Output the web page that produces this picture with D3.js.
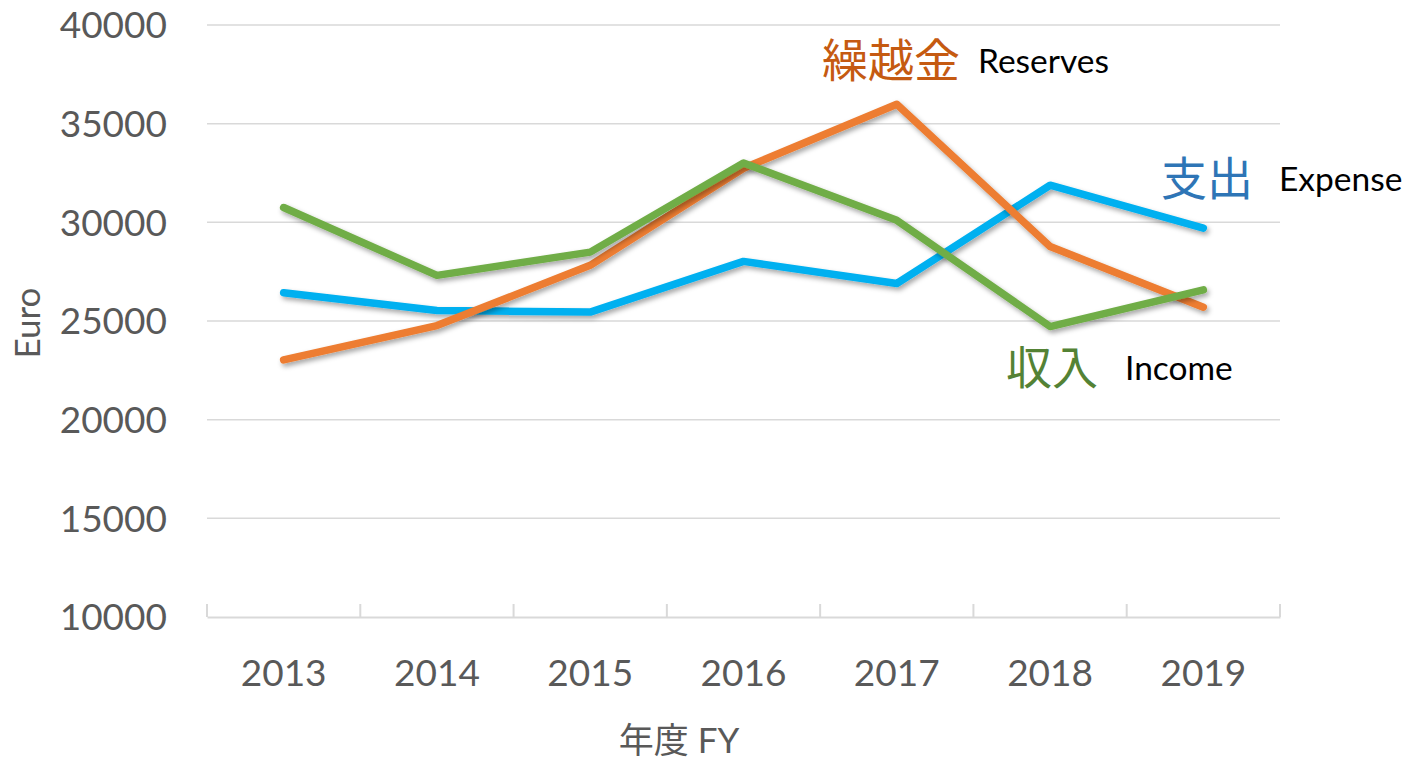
<!DOCTYPE html>
<html>
  <head>
    <meta charset="UTF-8" />
    <style>
      body { margin: 0; background: #fff; }
      text { font-family: Lato, "Noto Sans", sans-serif; }
      .cjk { font-family: "Noto Sans CJK JP", sans-serif; }
    </style>
  </head>
  <body>
    <svg></svg>

    <script src="https://d3js.org/d3.v7.min.js"></script>
    <script>
      let width = 1418,
        height = 764

      // data
      let years = ['2013', '2014', '2015', '2016', '2017', '2018', '2019']
      let reserves = [23030, 24770, 27820, 32740, 35980, 28780, 25700]
      let income = [30750, 27310, 28490, 33010, 30100, 24720, 26580]
      let expense = [26430, 25530, 25450, 28020, 26900, 31880, 29710]
      let yTicks = [10000, 15000, 20000, 25000, 30000, 35000, 40000]

      let series = [
        { name: 'expense', values: expense, color: '#00B0F0' },
        { name: 'reserves', values: reserves, color: '#ED7D31' },
        { name: 'income', values: income, color: '#70AD47' },
      ]

      let svg = d3.select('svg').attr('width', width).attr('height', height)

      let plotLeft = 207,
        plotRight = 1280,
        plotTop = 25,
        plotBottom = 617

      let x = d3.scaleBand().domain(years).range([plotLeft, plotRight])
      let y = d3.scaleLinear().domain([10000, 40000]).range([plotBottom, plotTop])

      // drop shadow for the lines
      svg
        .append('defs')
        .append('filter')
        .attr('id', 'shadow')
        .attr('x', '-10%')
        .attr('y', '-10%')
        .attr('width', '120%')
        .attr('height', '130%')
        .append('feDropShadow')
        .attr('dx', 2)
        .attr('dy', 3)
        .attr('stdDeviation', 2.5)
        .attr('flood-color', '#000')
        .attr('flood-opacity', 0.35)

      // gridlines
      svg
        .append('g')
        .selectAll('line')
        .data(yTicks.slice(1))
        .enter()
        .append('line')
        .attr('x1', plotLeft)
        .attr('x2', plotRight)
        .attr('y1', (d) => y(d))
        .attr('y2', (d) => y(d))
        .attr('stroke', '#d9d9d9')
        .attr('stroke-width', 1.5)

      // y axis labels
      svg
        .append('g')
        .selectAll('text')
        .data(yTicks)
        .enter()
        .append('text')
        .attr('x', 167)
        .attr('y', (d) => y(d))
        .attr('dy', '0.36em')
        .attr('text-anchor', 'end')
        .attr('fill', '#595959')
        .style('font-size', '37px')
        .text((d) => d)

      // x axis
      let xAxis = svg
        .append('g')
        .attr('transform', 'translate(0,' + plotBottom + ')')
        .call(d3.axisBottom(x).tickSize(0).tickPadding(43))
      xAxis.select('.domain').attr('stroke', '#d9d9d9').attr('stroke-width', 2)
      xAxis
        .selectAll('text')
        .attr('fill', '#595959')
        .style('font-size', '37px')
        .style('font-family', 'Lato, sans-serif')
        .attr('dy', '0.71em')

      let edges = years.map((d) => x(d)).concat([plotRight])
      svg
        .append('g')
        .selectAll('line')
        .data(edges)
        .enter()
        .append('line')
        .attr('x1', (d) => d)
        .attr('x2', (d) => d)
        .attr('y1', plotBottom - 13)
        .attr('y2', plotBottom)
        .attr('stroke', '#d9d9d9')
        .attr('stroke-width', 2)

      // axis titles
      svg
        .append('text')
        .attr('x', 679)
        .attr('y', 753)
        .attr('text-anchor', 'middle')
        .attr('fill', '#595959')
        .style('font-size', '35px')
        .html('<tspan class="cjk">年度</tspan> FY')

      svg
        .append('text')
        .attr('transform', 'translate(40,' + 323 + ') rotate(-90)')
        .attr('text-anchor', 'middle')
        .attr('fill', '#595959')
        .style('font-size', '35px')
        .text('Euro')

      // lines
      let line = d3
        .line()
        .x((d, i) => x(years[i]) + x.bandwidth() / 2)
        .y((d) => y(d))

      svg
        .append('g')
        .selectAll('path')
        .data(series)
        .enter()
        .append('path')
        .attr('d', (d) => line(d.values))
        .attr('fill', 'none')
        .attr('stroke', (d) => d.color)
        .attr('stroke-width', 7.5)
        .attr('stroke-linecap', 'round')
        .attr('stroke-linejoin', 'round')
        .attr('filter', 'url(#shadow)')

      // series labels
      let labels = [
        { jp: '繰越金', en: 'Reserves', color: '#C55A11', x: 822, y: 77, ex: 978 },
        { jp: '支出', en: 'Expense', color: '#2E75B6', x: 1161, y: 195, ex: 1279 },
        { jp: '収入', en: 'Income', color: '#548235', x: 1006, y: 384, ex: 1125 },
      ]
      labels.forEach((l) => {
        svg
          .append('text')
          .attr('class', 'cjk')
          .attr('x', l.x)
          .attr('y', l.y)
          .attr('fill', l.color)
          .style('font-size', '46px')
          .text(l.jp)
        svg
          .append('text')
          .attr('x', l.ex)
          .attr('y', l.y - 4)
          .attr('fill', '#000')
          .style('font-size', '33.5px')
          .text(l.en)
      })
    </script>
  </body>
</html>
